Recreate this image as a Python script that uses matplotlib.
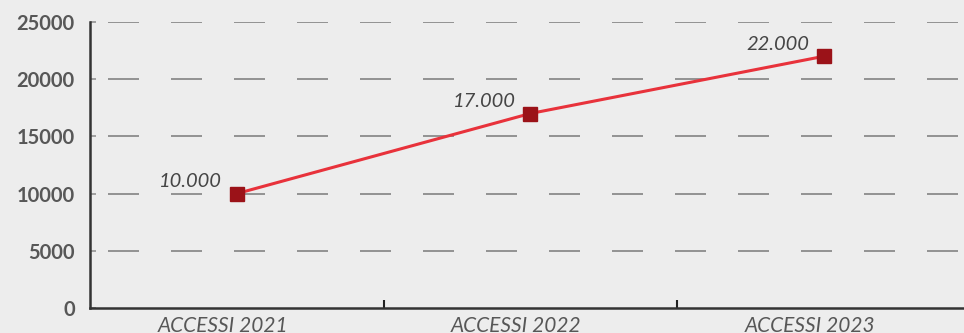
import numpy as np
import matplotlib
matplotlib.use("Agg")
import matplotlib.pyplot as plt
import matplotlib.transforms as mtransforms

categories = ["ACCESSI 2021", "ACCESSI 2022", "ACCESSI 2023"]
values = [10000, 17000, 22000]
value_labels = ["10.000", "17.000", "22.000"]
yticks = [0, 5000, 10000, 15000, 20000, 25000]

bg = "#ededed"
plt.rcParams["font.family"] = ["Lato", "DejaVu Sans"]

fig = plt.figure(figsize=(9.64, 3.33), dpi=100, facecolor=bg)
ax = fig.add_axes([90 / 964, (333 - 308) / 333, 880.5 / 964, 286 / 333])
ax.set_facecolor(bg)

px = 72 / 100  # one pixel in points
for y in yticks[1:]:
    ax.axhline(y, color="#7a7a7a", lw=1.1, zorder=1, dash_capstyle="butt")
for ln in ax.lines:
    ln.set_dashes((31 * px / 1.1, 32 * px / 1.1))
    ln._dash_pattern = (45 * px, ln._dash_pattern[1])

x = np.arange(len(categories))
ax.plot(x, values, color="#e8323b", lw=2.2, zorder=3)
ax.plot(x, values, ls="none", marker="s", ms=9.5, color="#9b1218", zorder=4)

for xi, v, lab in zip(x, values, value_labels):
    ax.annotate(lab, (xi, v), xytext=(-10.5, 2.5), textcoords="offset points",
                ha="right", va="bottom", fontsize=14.5, style="italic",
                color="#454545")

ax.set_xlim(-0.5, 2.5)
ax.set_ylim(0, 25000)
ax.set_yticks(yticks)
ax.set_yticklabels([str(t) for t in yticks], fontsize=14.5, fontweight="bold",
                   color="#575757")
ax.tick_params(axis="y", length=4.5, direction="in", width=1.1, color="#8a8a8a",
               pad=11)

ax.set_xticks(x)
ax.set_xticklabels(categories, fontsize=15, style="italic", color="#575757")
ax.tick_params(axis="x", which="major", length=0, pad=6)
shift = mtransforms.ScaledTranslation(-14 / 100, 0, fig.dpi_scale_trans)
for lbl in ax.get_xticklabels():
    lbl.set_transform(lbl.get_transform() + shift)
ax.set_xticks([0.5, 1.5], minor=True)
ax.tick_params(axis="x", which="minor", length=6, direction="in", width=1.5,
               color="#222222")

for s in ["top", "right"]:
    ax.spines[s].set_visible(False)
for s in ["left", "bottom"]:
    ax.spines[s].set_color("#333333")
    ax.spines[s].set_linewidth(1.8)
    ax.spines[s].set_zorder(5)

fig.savefig("out.png", dpi=100, facecolor=bg)
